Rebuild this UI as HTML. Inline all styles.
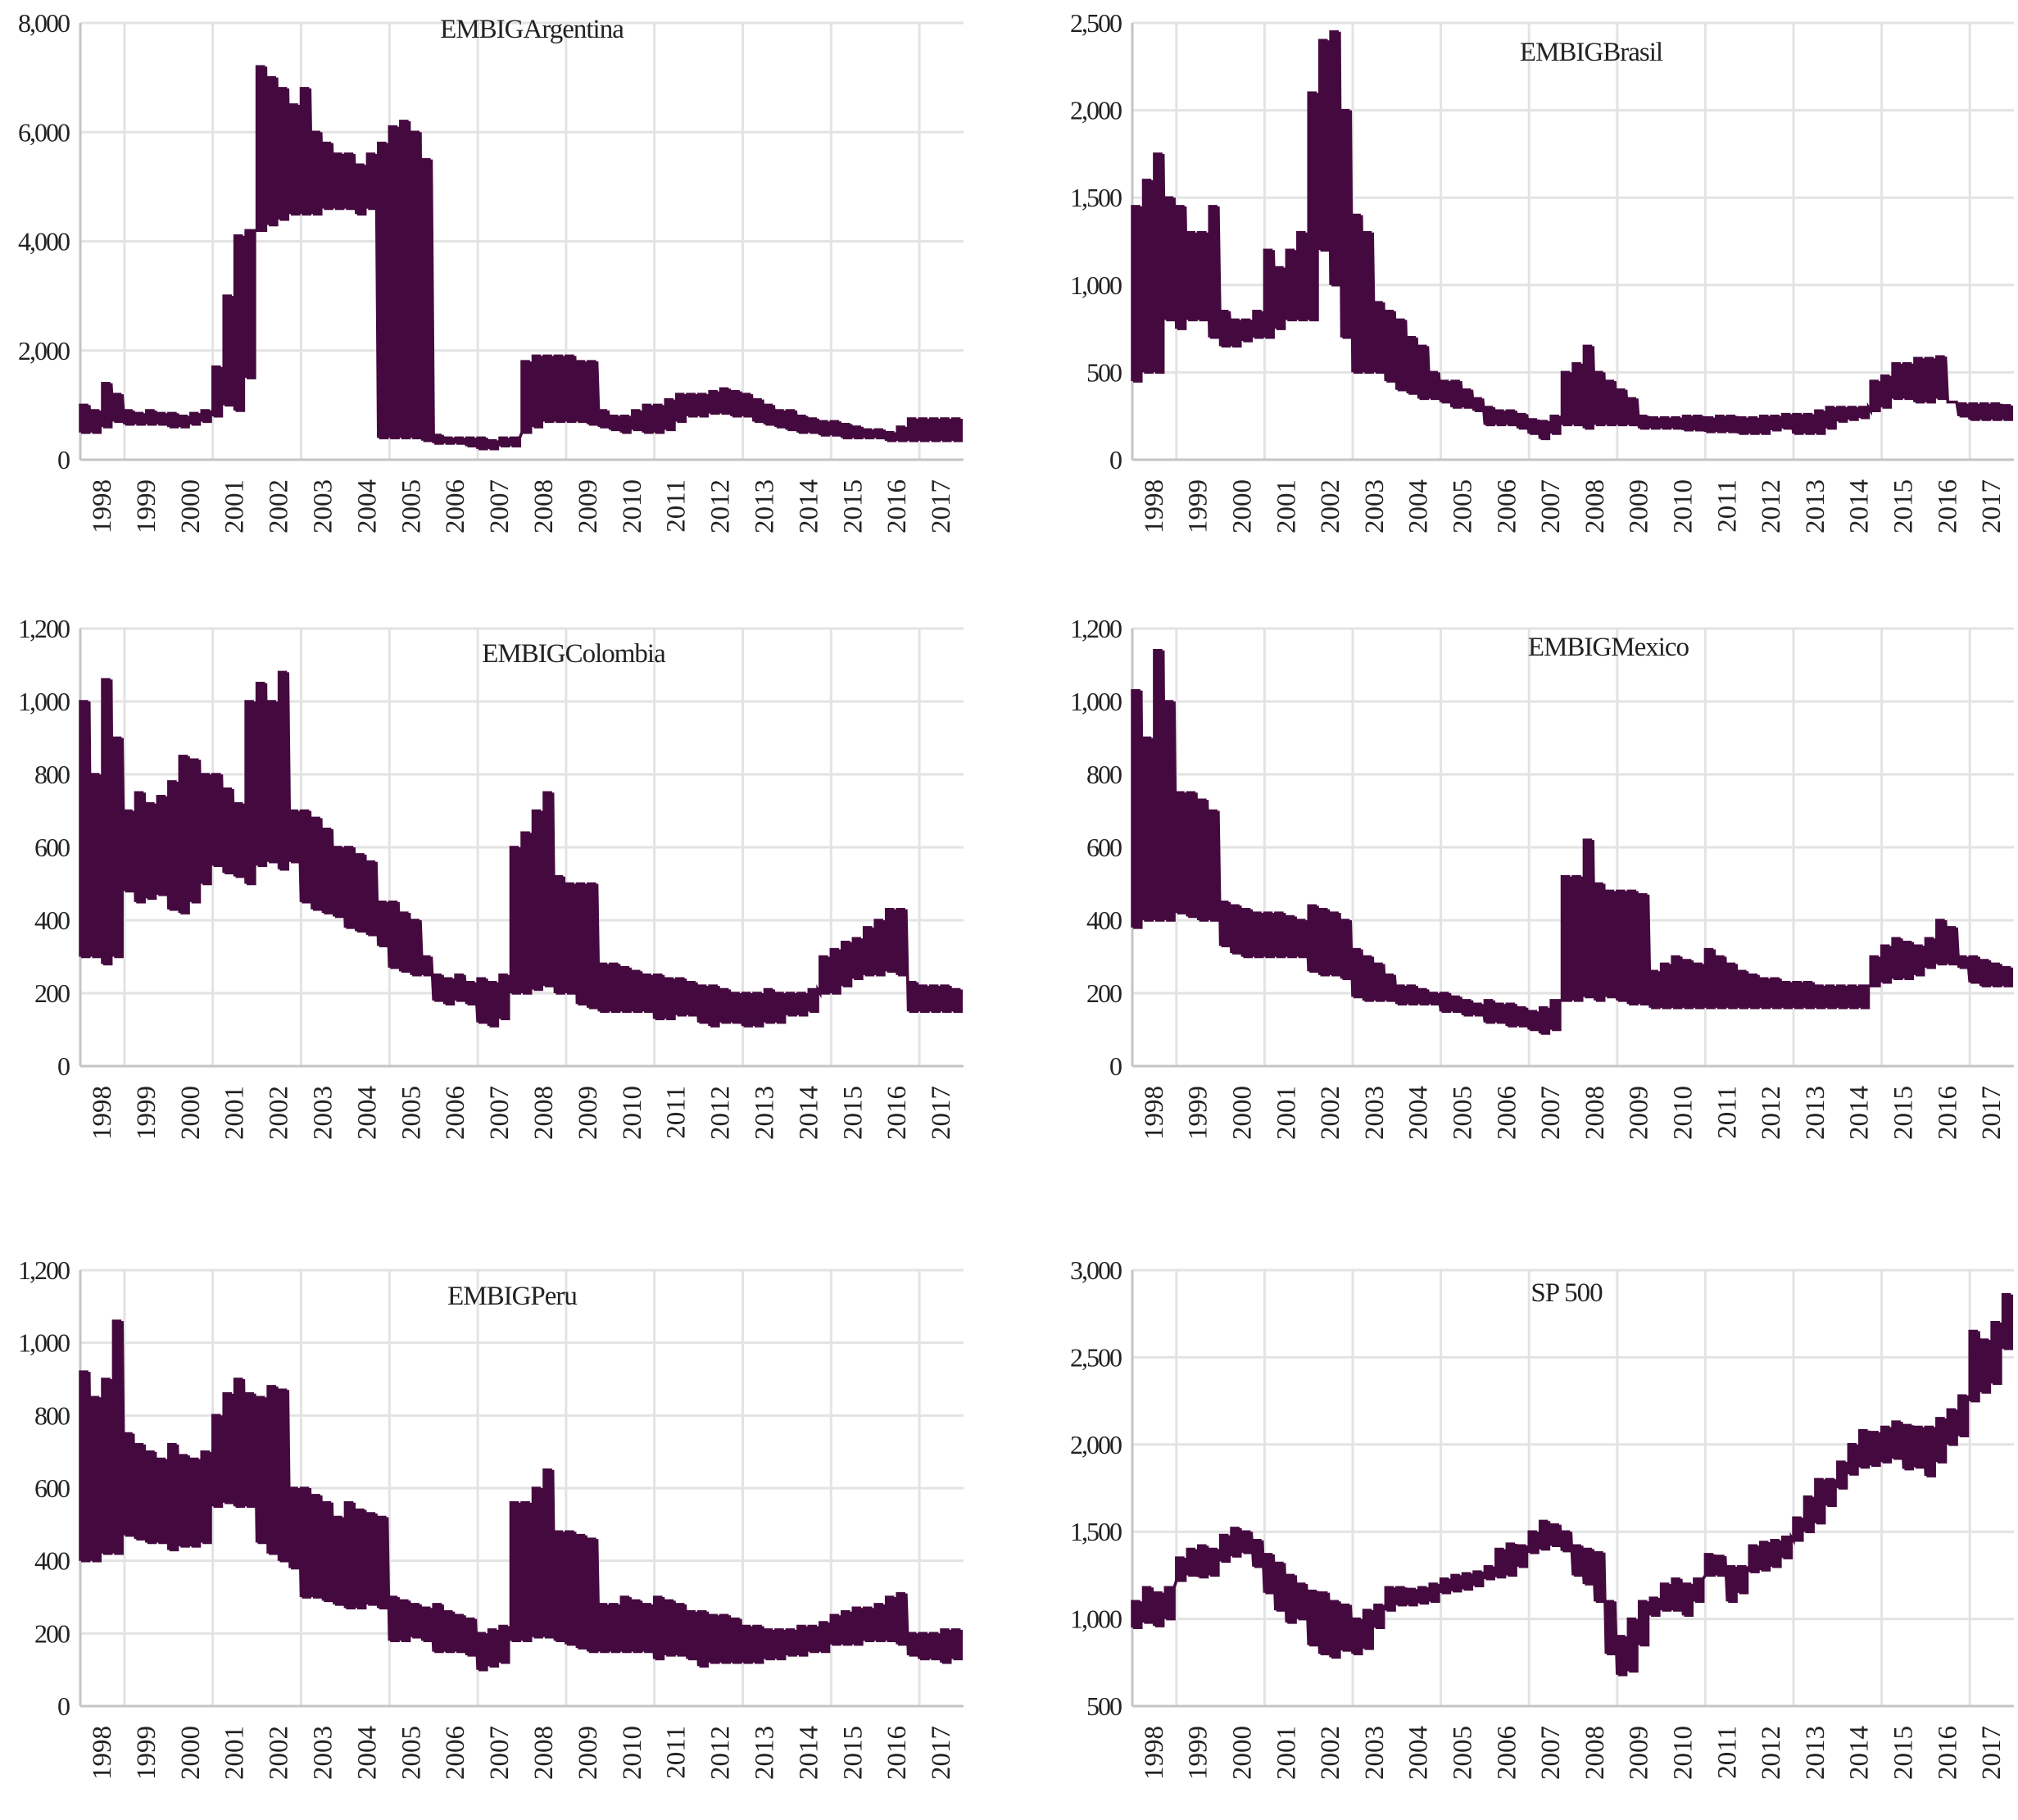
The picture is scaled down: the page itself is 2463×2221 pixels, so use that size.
<!DOCTYPE html>
<html><head><meta charset="utf-8"><title>EMBIG spreads and S&amp;P 500</title>
<style>
html,body{margin:0;padding:0;background:#fff;}
svg{display:block;}
text{font-family:"Liberation Serif",serif;fill:#222;}
</style></head>
<body>
<svg id="chart" width="2463" height="2221" viewBox="0 0 2463 2221" xmlns="http://www.w3.org/2000/svg"></svg>
<script>
// ---- data (quarterly low / high, 1998Q1 .. 2017Q4) ----
const years = [1998,1999,2000,2001,2002,2003,2004,2005,2006,2007,2008,2009,2010,2011,2012,2013,2014,2015,2016,2017];
const titles = ["EMBIGArgentina","EMBIGBrasil","EMBIGColombia","EMBIGMexico","EMBIGPeru","SP 500"];
const argTicks = [0,2000,4000,6000,8000];
const braTicks = [0,500,1000,1500,2000,2500];
const colTicks = [0,200,400,600,800,1000,1200];
const mexTicks = [0,200,400,600,800,1000,1200];
const perTicks = [0,200,400,600,800,1000,1200];
const spxTicks = [500,1000,1500,2000,2500,3000];

const argLo = [500,500,600,700, 650,650,650,650, 600,600,650,700, 800,1000,900,1500, 4200,4300,4400,4500, 4500,4500,4600,4600, 4600,4500,4600,400, 400,400,400,350, 300,300,300,250, 200,200,250,250, 500,600,700,700, 700,700,650,600, 550,500,550,500, 500,550,700,800, 800,850,850,800, 800,700,650,600, 550,500,500,450, 450,400,400,400, 400,350,350,350, 350,350,350,350];
const argHi = [1000,900,1400,1200, 900,850,900,850, 850,800,850,900, 1700,3000,4100,4200, 7200,7000,6800,6500, 6800,6000,5800,5600, 5600,5400,5600,5800, 6100,6200,6000,5500, 450,400,400,400, 400,350,400,400, 1800,1900,1900,1900, 1900,1800,1800,900, 800,800,900,1000, 1000,1100,1200,1200, 1200,1250,1300,1250, 1200,1100,1000,900, 900,800,750,700, 700,650,600,550, 550,500,600,750, 750,750,750,750];

const braLo = [450,500,500,800, 750,800,800,700, 650,650,680,700, 700,750,800,800, 800,1200,1000,700, 500,500,500,450, 400,380,350,350, 330,300,300,280, 200,200,200,180, 150,120,150,200, 200,180,200,200, 200,200,180,180, 180,180,170,170, 160,160,160,150, 150,150,170,180, 150,150,150,180, 220,230,240,280, 300,350,350,330, 330,350,330,250, 230,230,230,230];
const braHi = [1450,1600,1750,1500, 1450,1300,1300,1450, 850,800,800,850, 1200,1100,1200,1300, 2100,2400,2450,2000, 1400,1300,900,850, 800,700,650,500, 450,450,400,350, 300,280,280,260, 230,220,250,500, 550,650,500,450, 400,350,250,240, 240,240,250,250, 240,250,250,240, 240,250,250,260, 260,260,280,300, 300,300,300,450, 480,550,550,580, 580,590,330,320, 320,320,320,310];

const colLo = [300,300,280,300, 480,450,460,470, 430,420,450,500, 550,530,520,500, 550,560,540,560, 450,430,420,410, 380,370,360,330, 270,260,250,250, 180,170,180,170, 120,110,130,200, 200,210,220,200, 200,170,160,150, 150,150,150,150, 130,130,140,140, 120,110,120,120, 110,110,120,120, 140,140,150,200, 200,220,240,250, 250,260,250,150, 150,150,150,150];
const colHi = [1000,800,1060,900, 700,750,720,740, 780,850,840,800, 800,760,720,1000, 1050,1000,1080,700, 700,680,650,600, 600,580,560,450, 450,420,400,300, 250,240,250,230, 240,230,250,600, 640,700,750,520, 500,500,500,280, 280,270,260,250, 250,240,240,230, 220,220,210,200, 200,200,210,200, 200,200,210,300, 320,340,350,380, 400,430,430,230, 220,220,220,210];

const mexLo = [380,400,400,400, 420,410,400,400, 330,310,300,300, 300,300,300,300, 260,250,250,240, 190,180,180,180, 170,170,170,170, 150,150,140,140, 120,120,110,110, 100,90,100,180, 180,190,180,190, 180,170,170,160, 160,160,160,160, 160,160,160,160, 160,160,160,160, 160,160,160,160, 160,160,160,220, 230,240,240,250, 270,280,280,270, 230,220,220,220];
const mexHi = [1030,900,1140,1000, 750,750,730,700, 450,440,430,420, 420,420,410,400, 440,430,420,400, 320,300,280,250, 220,220,210,200, 200,190,180,170, 180,170,170,160, 150,160,180,520, 520,620,500,480, 480,480,470,260, 280,300,290,280, 320,300,280,260, 250,240,240,230, 230,230,220,220, 220,220,220,300, 330,350,340,330, 350,400,380,300, 300,290,280,270];

const perLo = [400,400,420,420, 470,460,450,450, 430,440,440,450, 550,560,550,550, 450,420,400,380, 300,300,290,280, 270,270,280,270, 180,180,190,180, 150,150,150,140, 100,110,120,180, 180,190,190,180, 170,160,150,150, 150,150,150,150, 130,140,140,130, 110,120,120,120, 120,120,130,130, 140,140,150,150, 170,170,170,180, 180,180,170,140, 130,130,120,130];
const perHi = [920,850,900,1060, 750,720,700,680, 720,690,680,700, 800,860,900,860, 850,880,870,600, 600,580,560,520, 560,540,530,520, 300,290,280,270, 280,260,250,240, 200,210,220,560, 560,600,650,480, 480,470,460,280, 280,300,290,280, 300,290,280,260, 260,250,250,240, 220,220,210,210, 210,220,220,230, 250,260,270,270, 280,300,310,200, 200,200,210,210];

const spxLo = [950,980,960,1000, 1220,1250,1240,1250, 1330,1360,1380,1300, 1150,1050,980,1000, 850,800,780,820, 800,830,950,1050, 1080,1080,1090,1100, 1150,1160,1170,1190, 1230,1240,1250,1300, 1380,1400,1420,1390, 1250,1200,1100,800, 680,700,850,1020, 1050,1050,1020,1100, 1250,1250,1100,1150, 1270,1280,1300,1350, 1450,1500,1550,1650, 1750,1830,1870,1880, 1900,1920,1860,1870, 1820,1900,2000,2050, 2250,2300,2350,2550];
const spxHi = [1100,1180,1150,1180, 1350,1400,1420,1400, 1480,1520,1500,1450, 1370,1320,1250,1200, 1160,1150,1100,1080, 1000,1050,1080,1180, 1180,1170,1180,1200, 1230,1250,1260,1270, 1300,1400,1430,1420, 1500,1560,1540,1500, 1420,1400,1380,1100, 900,1000,1100,1120, 1200,1230,1200,1230, 1370,1360,1300,1300, 1420,1440,1450,1470, 1580,1700,1800,1800, 1900,2000,2080,2070, 2100,2130,2110,2100, 2100,2150,2200,2280, 2650,2600,2700,2860];

const svgNS = "http://www.w3.org/2000/svg";
const svg = document.getElementById('chart');
const COLOR = "#44093e";

function mk(tag, attrs, parent){
  const e = document.createElementNS(svgNS, tag);
  for (const k in attrs) e.setAttribute(k, attrs[k]);
  (parent||svg).appendChild(e);
  return e;
}

const panels = [
  {x0:98,  x1:1176, top:28,   bot:561,  min:0,   max:8000, ticks:argTicks, lo:argLo, hi:argHi, tx:649,  ty:35,   name:"argentina"},
  {x0:1382,x1:2458, top:28,   bot:561,  min:0,   max:2500, ticks:braTicks, lo:braLo, hi:braHi, tx:1942, ty:63,   name:"brasil"},
  {x0:98,  x1:1176, top:767,  bot:1301, min:0,   max:1200, ticks:colTicks, lo:colLo, hi:colHi, tx:700,  ty:797,  name:"colombia"},
  {x0:1382,x1:2458, top:767,  bot:1301, min:0,   max:1200, ticks:mexTicks, lo:mexLo, hi:mexHi, tx:1963, ty:789,  name:"mexico"},
  {x0:98,  x1:1176, top:1550, bot:2082, min:0,   max:1200, ticks:perTicks, lo:perLo, hi:perHi, tx:625,  ty:1581, name:"peru"},
  {x0:1382,x1:2458, top:1550, bot:2082, min:500, max:3000, ticks:spxTicks, lo:spxLo, hi:spxHi, tx:1912, ty:1577, name:"sp500"}
];

panels.forEach((p, pi) => {
  const g = mk('g', {});
  
  
  const xS = t => p.x0 + (t - years[0]) / years.length * (p.x1 - p.x0);
  const yS = v => p.bot - (v - p.min) / (p.max - p.min) * (p.bot - p.top);

  p.ticks.forEach(v => {
    if (v !== p.min) {
      const gl = mk('line', {x1:p.x0, x2:p.x1, y1:yS(v), y2:yS(v), stroke:"#e3e3e3", "stroke-width":3}, g);
      
      
    }
    const t = mk('text', {x:p.x0-14, y:yS(v)+11, "text-anchor":"end", "font-size":32, "letter-spacing":"-2"}, g);
    
    
    t.textContent = v.toLocaleString('en-US');
  });
  years.forEach(y => {
    if ((y - years[0]) % 2 === 1) {
      const vl = mk('line', {x1:xS(y), x2:xS(y), y1:p.top, y2:p.bot, stroke:"#e3e3e3", "stroke-width":3}, g);
      
      
    }
    const cx = xS(y + 0.5);
    const lt = mk('text', {transform:`translate(${cx+10},${p.bot+24}) rotate(-90)`, "text-anchor":"end", "font-size":33}, g);
    
    
    lt.textContent = y;
  });
  const ya = mk('line', {x1:p.x0, x2:p.x0, y1:p.top, y2:p.bot, stroke:"#c4c4c4", "stroke-width":3}, g);
  
  
  const xa = mk('line', {x1:p.x0, x2:p.x1, y1:p.bot, y2:p.bot, stroke:"#c4c4c4", "stroke-width":3}, g);
  
  

  let d = "";
  const sub = 5;
  p.lo.forEach((lo, i) => {
    const hi = p.hi[i];
    for (let j = 0; j < sub; j++) {
      const t = years[0] + (i + j / sub) / 4;
      const x = xS(t).toFixed(1);
      const a = (j % 2 === 0) ? lo : hi, b = (j % 2 === 0) ? hi : lo;
      d += (d ? "L" : "M") + x + "," + yS(a).toFixed(1) + "L" + x + "," + yS(b).toFixed(1);
    }
  });
  const path = mk('path', {d:d, fill:"none", stroke:COLOR, "stroke-width":3.5, "stroke-linejoin":"miter"}, g);
  
  

  const tt = mk('text', {x:p.tx, y:p.ty+11, "text-anchor":"middle", "font-size":33, "letter-spacing":"-1"}, g);
  
  
  tt.textContent = titles[pi];
});
</script>
</body></html>
